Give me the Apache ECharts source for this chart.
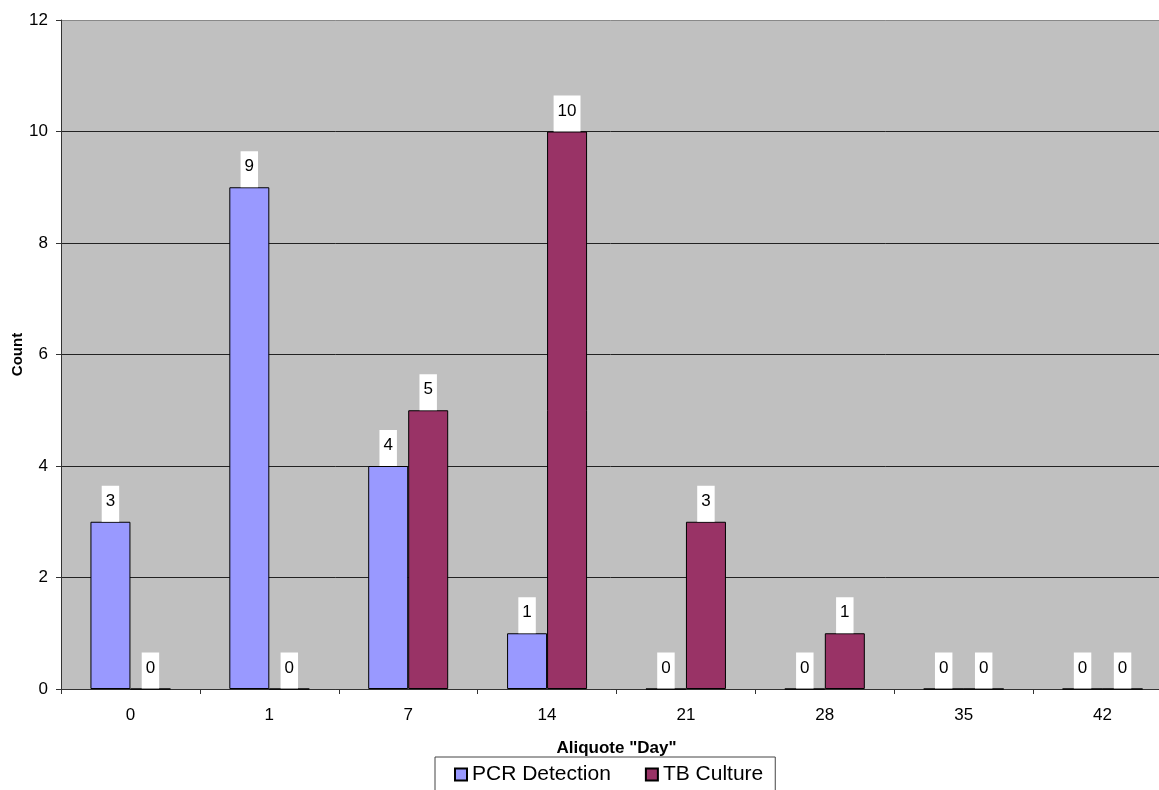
<!DOCTYPE html>
<html><head><meta charset="utf-8">
<script src="https://cdn.jsdelivr.net/npm/echarts@6/dist/echarts.min.js"></script>
<style>html,body{margin:0;padding:0;background:#fff}#c{width:1159px;height:790px}</style>
</head><body><div id="c"></div>
<script>
const categories = ['0','1','7','14','21','28','35','42'];
const pcrDetection = [3,9,4,1,0,0,0,0];
const tbCulture = [0,0,5,10,3,1,0,0];
const yTicks = [0,2,4,6,8,10,12];

const FONT = '"Liberation Sans", Arial, sans-serif';
const chart = echarts.init(document.getElementById('c'));
const label = {
  show: true, position: 'top', distance: 0,
  color: '#000', fontSize: 17, fontFamily: FONT,
  backgroundColor: '#fff', padding: [7,4,12,4], lineHeight: 17
};
chart.setOption({
  animation: false,
  backgroundColor: '#fff',
  grid: { left: 61, top: 20, bottom: 101, right: -13, outerBoundsMode: 'none', containLabel: false,
    show: true, backgroundColor: '#C0C0C0', borderWidth: 0 },
  legend: {
    left: 435, top: 757,
    data: ['PCR Detection','TB Culture'],
    itemWidth: 12, itemHeight: 12, itemGap: 34,
    icon: 'rect',
    borderColor: '#444', borderWidth: 1,
    padding: [7, 12, 10, 19],
    textStyle: { fontSize: 21, fontFamily: FONT, color: '#000' }
  },
  xAxis: {
    type: 'category', data: categories,
    name: 'Aliquote "Day"', nameLocation: 'middle', nameGap: 51, nameMoveOverlap: false,
    nameTextStyle: { fontSize: 17, fontWeight: 'bold', fontFamily: FONT, color: '#000' },
    axisLine: { lineStyle: { color: '#333', width: 1 } },
    axisTick: { show: true, length: 5, lineStyle: { color: '#333' } },
    axisLabel: { fontSize: 17, fontFamily: FONT, color: '#000', margin: 18 }
  },
  yAxis: {
    type: 'value', min: 0, max: 12, interval: 2,
    name: 'Count', nameLocation: 'middle', nameGap: 36, nameMoveOverlap: false,
    nameTextStyle: { fontSize: 15, fontWeight: 'bold', fontFamily: FONT, color: '#000' },
    axisLine: { show: true, lineStyle: { color: '#333', width: 1 } },
    axisTick: { show: true, length: 5, lineStyle: { color: '#333' } },
    axisLabel: { fontSize: 17, fontFamily: FONT, color: '#000', margin: 13,
      formatter: v => yTicks.includes(v) ? String(v) : '' },
    splitLine: { show: true, lineStyle: { color: ['#222','#222','#222','#222','#222','#222','#888'], width: 1 } }
  },
  series: [
    { name: 'PCR Detection', type: 'bar', data: pcrDetection, barWidth: 40, barGap: '0%',
      itemStyle: { color: '#9999FF', borderColor: '#000', borderWidth: 1 }, label },
    { name: 'TB Culture', type: 'bar', data: tbCulture, barWidth: 40, barGap: '0%',
      itemStyle: { color: '#993366', borderColor: '#000', borderWidth: 1 }, label }
  ]
});
</script></body></html>
